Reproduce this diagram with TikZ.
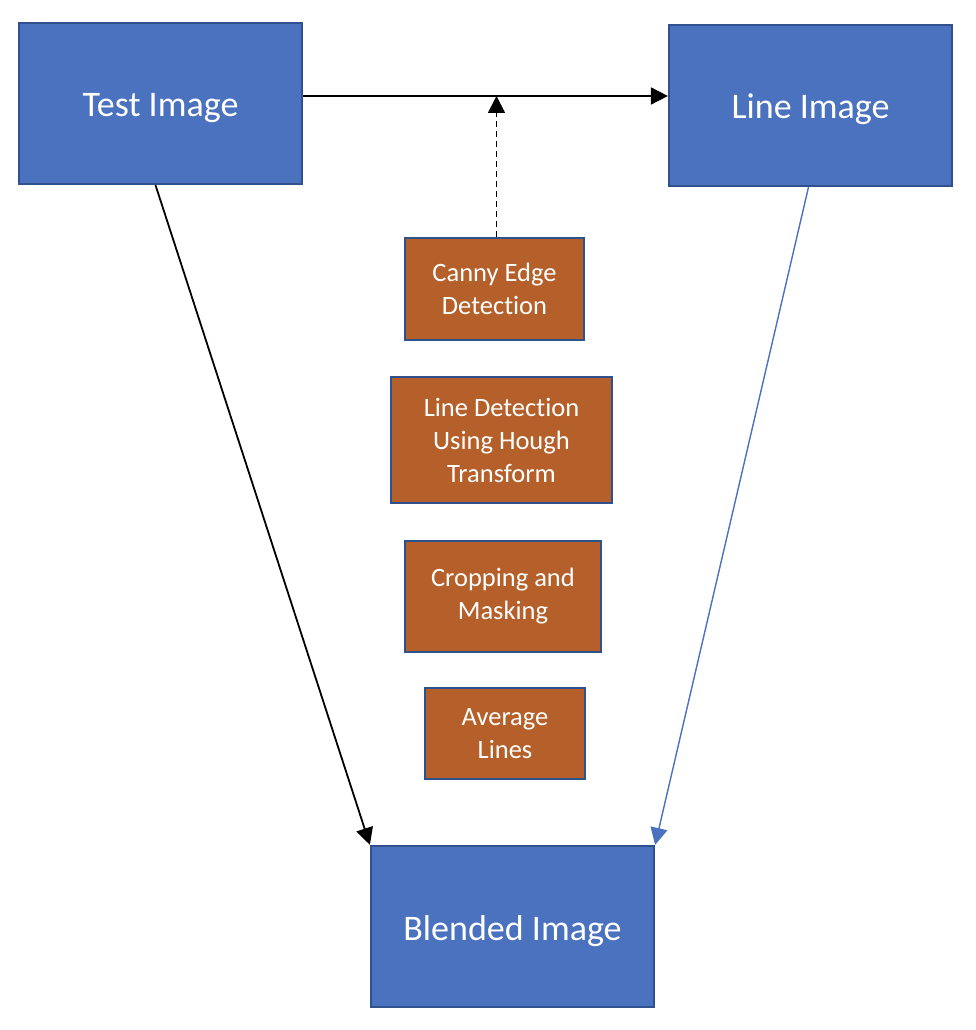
\documentclass[tikz,border=0pt]{standalone}
\usepackage{fontspec}
\setmainfont[Ligatures=NoCommon]{Carlito}
\usepackage{xcolor}
\usetikzlibrary{arrows.meta}
\definecolor{imgblue}{HTML}{4A72BE}
\definecolor{edgeblue}{HTML}{2F528F}
\definecolor{stepbrown}{HTML}{B5602A}

\begin{document}
\begin{tikzpicture}[
  x=1pt, y=-1pt,
  imgbox/.style={draw=edgeblue, line width=2.2pt, fill=imgblue, text=white,
                 align=center, inner sep=0pt, minimum width=283pt, minimum height=161pt,
                 text height=36pt, text depth=9pt,
                 font=\fontsize{36}{44}\selectfont},
  stepbox/.style={draw=edgeblue, line width=2.2pt, fill=stepbrown, text=white,
                  align=center, inner sep=0pt, font=\fontsize{26.5}{33}\selectfont},
  arr/.style={-{Triangle[length=17pt, width=17pt]}, line width=1.8pt},
  bluearr/.style={-{Triangle[length=17pt, width=17pt]}, line width=1.4pt, draw=imgblue, fill=imgblue},
]
\useasboundingbox (0,0) rectangle (976,1030);
\node[imgbox] (test) at (160.5,103.5) {Test Image};
\node[imgbox] (line) at (810.5,105.5) {Line Image};
\node[stepbox, minimum width=179pt, minimum height=102pt] (canny) at (494.5,289) {Canny Edge\\Detection};
\node[stepbox, minimum width=221pt, minimum height=126pt] (hough) at (501.5,440) {Line Detection\\Using Hough\\Transform};
\node[stepbox, minimum width=196pt, minimum height=111pt] (crop) at (503,596.5) {Cropping and\\Masking};
\node[stepbox, minimum width=160pt, minimum height=91pt] (avg) at (505,733.5) {Average\\Lines};
\node[imgbox] (blend) at (512.5,926.5) {Blended Image};
\draw[arr] ([yshift=7.5pt]test.east) coordinate (top) -- (top -| line.west);
\draw[arr, dash pattern=on 6pt off 4pt] ([xshift=2pt]canny.north) -- ([xshift=2pt]canny.north |- top);
\draw[arr] ([xshift=-5pt]test.south) -- (blend.north west);
\draw[bluearr] ([xshift=-2pt]line.south) -- (blend.north east);
\end{tikzpicture}
\end{document}
